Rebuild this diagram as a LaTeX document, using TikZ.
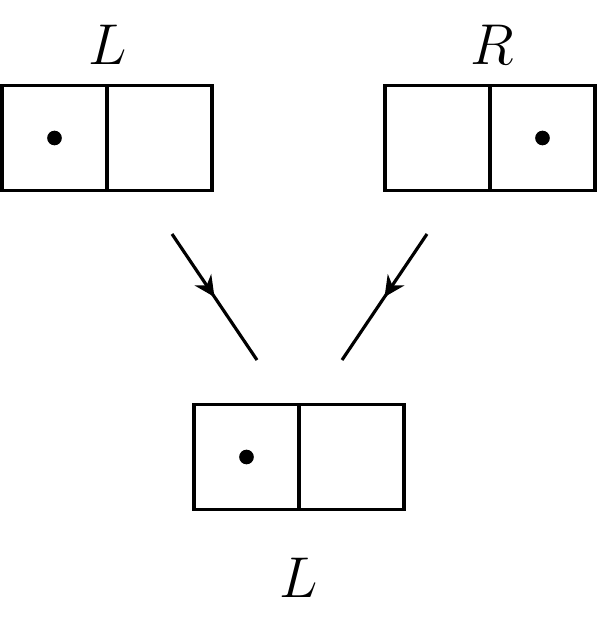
\documentclass[tikz,border=0pt]{standalone}
\usetikzlibrary{arrows.meta,decorations.markings}
\begin{document}
\begin{tikzpicture}[x=0.3pt,y=-0.3pt]
	% Styles
	\tikzstyle{case}=[draw,line width=0.95pt,minimum size=31.5pt,inner sep=0pt,outer sep=0pt]
	\tikzstyle{point}=[fill,circle,inner sep=0pt,minimum size=4.4pt]
	\tikzstyle{etiquette}=[font=\fontsize{17}{20}\selectfont]
	\tikzstyle{fleche}=[line width=0.95pt,postaction={decorate},
		decoration={markings,mark=at position 0.5 with {\arrow{Stealth[length=6.2pt,width=6pt,inset=2pt]}}}]
	% Cadre
	\useasboundingbox (0,0) rectangle (599,617);
	% Noeuds
	\node[case] (Ga) at (54.5,138) {};
	\node[case] (Gb) at (159.5,138) {};
	\node[point] (Pg) at (Ga) {};
	\node[etiquette] (Lg) at (108,45) {$L$};
	%
	\node[case] (Da) at (437.5,138) {};
	\node[case] (Db) at (542.5,138) {};
	\node[point] (Pd) at (Db) {};
	\node[etiquette] (Rd) at (492,45) {$R$};
	%
	\node[case] (Ba) at (246.5,457) {};
	\node[case] (Bb) at (351.5,457) {};
	\node[point] (Pb) at (Ba) {};
	\node[etiquette] (Lb) at (299,578) {$L$};
	% Arcs
	\coordinate (A1) at (172,234);
	\coordinate (A2) at (257,360);
	\coordinate (B1) at (427,234);
	\coordinate (B2) at (342,360);
	\draw[fleche] (A1)--(A2);
	\draw[fleche] (B1)--(B2);
\end{tikzpicture}
\end{document}
